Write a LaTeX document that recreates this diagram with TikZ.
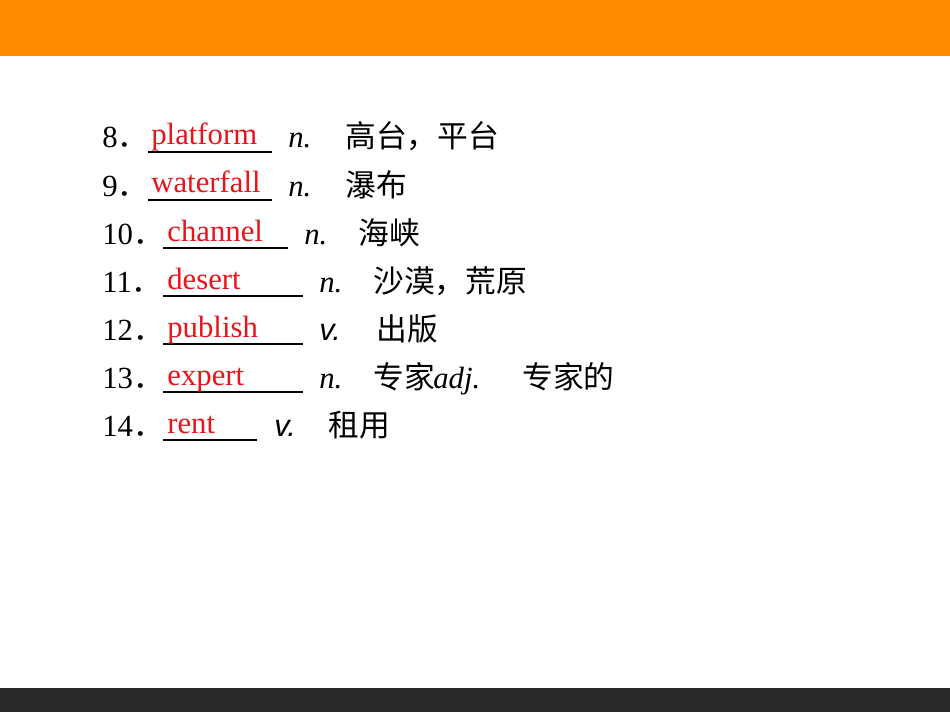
\documentclass[tikz,border=0pt]{standalone}
\usepackage{fontspec}
\setmainfont{Liberation Serif}
\newfontfamily\cjk{Noto Sans CJK SC}
\newfontfamily\vsans{Liberation Sans}
\usetikzlibrary{positioning}
\definecolor{barorange}{HTML}{FF8A00}
\definecolor{bardark}{HTML}{282828}
\definecolor{ansred}{HTML}{E8141B}
\tikzset{
  txt/.style={anchor=base west,inner sep=0pt,font=\fontsize{17.5}{20}\selectfont},
  ans/.style={txt,text=ansred},
  blank/.style={line width=1pt}
}
\newcommand{\dotcn}{{\cjk ．}}
\begin{document}
\begin{tikzpicture}[x=0.02cm,y=-0.02cm]
    \useasboundingbox (0,0) rectangle (950,713);
    \fill[barorange] (0,0) rectangle (950,56);
    \fill[bardark] (0,688) rectangle (950,712);
    % row 8
    \node [txt] (n8) at (102,148) {8\dotcn};
    \draw [blank] (148,152) -- (272,152);
    \node [ans] (a8) at (151,145) {platform};
    \node [txt] (p8) at (288,148) {\itshape n.};
    \node [txt] (c8) at (345,148) {\cjk 高台，平台};
    % row 9
    \node [txt] (n9) at (102,196) {9\dotcn};
    \draw [blank] (148,200) -- (272,200);
    \node [ans] (a9) at (151,193) {waterfall};
    \node [txt] (p9) at (288,196) {\itshape n.};
    \node [txt] (c9) at (345,196) {\cjk 瀑布};
    % row 10
    \node [txt] (n10) at (102,244) {10\dotcn};
    \draw [blank] (163,248) -- (288,248);
    \node [ans] (a10) at (167,241) {channel};
    \node [txt] (p10) at (304,244) {\itshape n.};
    \node [txt] (c10) at (358,244) {\cjk 海峡};
    % row 11
    \node [txt] (n11) at (102,292) {11\dotcn};
    \draw [blank] (163,296) -- (303,296);
    \node [ans] (a11) at (167,289) {desert};
    \node [txt] (p11) at (319,292) {\itshape n.};
    \node [txt] (c11) at (373,292) {\cjk 沙漠，荒原};
    % row 12
    \node [txt] (n12) at (102,340) {12\dotcn};
    \draw [blank] (163,344) -- (303,344);
    \node [ans] (a12) at (167,337) {publish};
    \node [txt] (p12) at (319,340) {\vsans\itshape v.};
    \node [txt] (c12) at (376,340) {\cjk 出版};
    % row 13
    \node [txt] (n13) at (102,388) {13\dotcn};
    \draw [blank] (163,392) -- (303,392);
    \node [ans] (a13) at (167,385) {expert};
    \node [txt] (p13) at (319,388) {\itshape n.};
    \node [txt] (c13) at (373,388) {\cjk 专家};
    \node [txt] (q13) at (433,388) {\itshape adj.};
    \node [txt] (d13) at (522,388) {\cjk 专家的};
    % row 14
    \node [txt] (n14) at (102,436) {14\dotcn};
    \draw [blank] (163,440) -- (257,440);
    \node [ans] (a14) at (167,433) {rent};
    \node [txt] (p14) at (274,436) {\vsans\itshape v.};
    \node [txt] (c14) at (328,436) {\cjk 租用};
\end{tikzpicture}
\end{document}
